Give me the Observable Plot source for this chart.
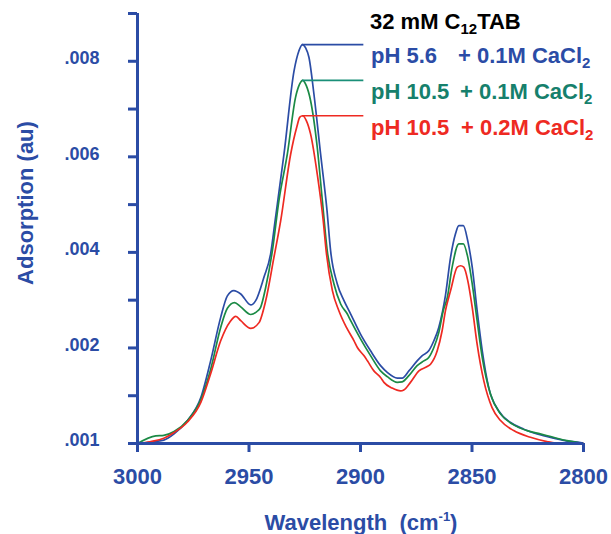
<!DOCTYPE html>
<html><head><meta charset="utf-8">
<script src="https://cdn.jsdelivr.net/npm/d3@7"></script>
<script src="https://cdn.jsdelivr.net/npm/@observablehq/plot@0.6"></script>
<style>body{margin:0;background:#fff;overflow:hidden} svg{display:block}</style>
</head><body><div id="chart"></div>
<script>
// ---- data ----
const blueWn = [3000,2994,2988.2,2983.6,2977.6,2971.6,2967.2,2962.7,2959.7,2956.8,2953.7,2949.2,2947,2943.3,2940.3,2938.3,2934.3,2929.8,2927.6,2926.1,2924.6,2923.1,2920.9,2917.9,2915,2913.4,2910.4,2907.4,2904.4,2900,2895.5,2891,2888,2883.5,2881.3,2878.3,2874.6,2872.3,2869.4,2867.1,2864.9,2861.9,2859.6,2857.4,2855.9,2853.9,2851.9,2849.9,2847.7,2845.4,2842.5,2838,2832.7,2826.8,2820.8,2813.3,2807.3,2801.4,2800];
const blueAbs = [0,0.00003,0.00007,0.0002,0.00048,0.00096,0.00173,0.00264,0.00309,0.0032,0.00313,0.0029,0.00299,0.00348,0.00397,0.00466,0.00606,0.0078,0.00822,0.00835,0.00828,0.00808,0.00732,0.00606,0.00487,0.00403,0.00334,0.00299,0.00271,0.00229,0.00194,0.00163,0.00149,0.00137,0.00137,0.00152,0.00173,0.00184,0.00194,0.00215,0.00243,0.0031,0.0039,0.00439,0.00456,0.00456,0.00424,0.00369,0.00278,0.00194,0.00117,0.00068,0.00044,0.0003,0.0002,0.00011,0.00005,0.00002,0];

const greenWn = [3000,2991.8,2988.2,2983.6,2977.6,2971.6,2967.2,2962.7,2959.7,2956.5,2953.7,2949.2,2946.5,2944.8,2942.5,2939.5,2936.6,2932.8,2929.1,2927.2,2926,2924.3,2922.4,2919.4,2917.1,2914.9,2911.9,2908.9,2905.9,2904.4,2900,2895.5,2891,2888,2883.5,2881.3,2878.3,2874.6,2871.6,2869.4,2867.1,2864.9,2862.9,2861.1,2858.9,2855.9,2853.9,2851.9,2849.9,2847.7,2845.4,2841.7,2837.2,2831.3,2825.3,2819.4,2811.9,2807.4,2800];
const greenAbs = [0,0.00016,0.00017,0.00025,0.00048,0.00092,0.00155,0.00243,0.00283,0.00295,0.00286,0.0027,0.00276,0.00285,0.00327,0.00404,0.00508,0.00606,0.00725,0.00753,0.0076,0.00749,0.00718,0.0062,0.00508,0.00403,0.00334,0.00292,0.00271,0.00257,0.00219,0.00184,0.00152,0.0014,0.00128,0.00129,0.00142,0.00163,0.00173,0.0018,0.00201,0.00232,0.00278,0.00305,0.00369,0.00418,0.00418,0.0039,0.00334,0.00257,0.0018,0.00103,0.00062,0.00039,0.00027,0.0002,0.00011,0.00006,0];

const redWn = [3000,2994,2988.2,2983.6,2977.6,2971.6,2967.2,2962.7,2958.5,2955.9,2953.7,2949.2,2945.5,2942.5,2938.8,2935.8,2931.3,2928.6,2927.2,2926,2924.3,2922.4,2919.4,2916.7,2915.4,2912.6,2909.7,2906.3,2902.9,2901.4,2898.5,2896.9,2894,2891,2889.5,2885.8,2882,2880.6,2877.6,2873.8,2870.1,2868.6,2865.6,2863.4,2861.9,2859.6,2856.6,2855.1,2853.7,2851.9,2849.9,2847.7,2844.7,2841,2837.2,2831.3,2823.8,2816.4,2810.4,2800];
const redAbs = [0,0.00004,0.00011,0.00023,0.00045,0.00086,0.00146,0.00215,0.00255,0.00266,0.00257,0.00241,0.00253,0.00299,0.0039,0.00466,0.00606,0.00662,0.00683,0.00686,0.00676,0.00648,0.00564,0.00466,0.00403,0.0032,0.00278,0.00243,0.00215,0.00201,0.00184,0.00173,0.00152,0.00138,0.00128,0.00116,0.0011,0.00112,0.00128,0.00152,0.00161,0.00166,0.00194,0.00236,0.00278,0.0032,0.00369,0.00372,0.00369,0.00341,0.00285,0.00208,0.00131,0.00075,0.00048,0.00027,0.00013,0.00004,0,0];

const seriesPh = ["pH 5.6", "pH 10.5", "pH 10.5"];
const seriesSalt = ["+ 0.1M CaCl", "+ 0.1M CaCl", "+ 0.2M CaCl"];
const titleMain = "32 mM C", titleSub = "12", titleEnd = "TAB";
const xTicks = [3000, 2950, 2900, 2850, 2800];
const yTicks = [0, 0.001, 0.002, 0.003, 0.004, 0.005, 0.006, 0.007, 0.008, 0.009];
const yLabelValues = [0, 0.002, 0.004, 0.006, 0.008];
const yLabelTexts = [".001", ".002", ".004", ".006", ".008"];
const xTitle = "Wavelength  (cm", xTitleSup = "-1";
const yTitle = "Adsorption (au)";
const legendEndWn = 2898.5;

// ---- styling ----
const BLUE = "#2b4ca5";
const lineColors = ["#2b4ca5", "#1b8a45", "#ee2a22"];
const legendLineColors = ["#2b4ca5", "#1a8f78", "#ee2a22"];
const textColors = ["#2b4ca6", "#16806c", "#ee2a22"];
const FONT = "'Liberation Sans', Arial, Helvetica, sans-serif";

const series = [[blueWn, blueAbs], [greenWn, greenAbs], [redWn, redAbs]];
const rows = series.flatMap(([w, a], k) => w.map((wn, i) => ({k, wn, abs: a[i], color: lineColors[k]})));
const peaks = series.map(([w, a], k) => {
  const i = d3.maxIndex(a);
  return {k, wn: w[i], abs: a[i], end: legendEndWn, color: legendLineColors[k]};
});
const yLabelRows = yLabelValues.map((v, i) => ({v, t: yLabelTexts[i], x: xTicks[0]}));

const plot = Plot.plot({
  width: 611, height: 534,
  marginTop: 13, marginRight: 28, marginBottom: 91, marginLeft: 137,
  style: {fontFamily: FONT, fontWeight: "bold", color: BLUE, background: "white", overflow: "visible"},
  x: {domain: [3000, 2800], label: null, axis: null},
  y: {domain: [0, 0.009], label: null, axis: null},
  color: {type: "identity"},
  marks: [
    Plot.line(rows, {x: "wn", y: "abs", z: "k", stroke: "color", strokeWidth: 1.7, curve: "monotone-x"}),
    Plot.ruleY(peaks, {y: "abs", x1: "wn", x2: "end", stroke: "color", strokeWidth: 1.7}),
    Plot.ruleX([xTicks[0]], {stroke: BLUE, strokeWidth: 3}),
    Plot.ruleY([0], {stroke: BLUE, strokeWidth: 3}),
    Plot.axisX({ticks: xTicks, tickFormat: "d", tickSize: 9, tickPadding: 16, fontSize: 22, strokeWidth: 3, label: null}),
    Plot.axisY({ticks: yTicks, tickFormat: () => "", tickSize: 9, strokeWidth: 3, label: null}),
    Plot.text(yLabelRows, {x: "x", y: "v", text: "t", dx: -38, dy: -3, textAnchor: "end", fontSize: 18, fill: BLUE})
  ]
});
document.getElementById("chart").append(plot);

const svg = d3.select(plot);
function addText(x, y, parts, size, fill, anchor = "start") {
  const t = svg.append("text").attr("x", x).attr("y", y)
    .attr("font-family", FONT).attr("font-weight", "bold").attr("font-size", size)
    .attr("fill", fill).attr("text-anchor", anchor).style("white-space", "pre");
  for (const p of parts) {
    const s = t.append("tspan").text(p.text);
    if (p.size) s.attr("font-size", p.size);
    if (p.dy) s.attr("dy", p.dy);
  }
  return t;
}
// title
addText(370, 29, [{text: titleMain}, {text: titleSub, size: 15, dy: 5}, {text: titleEnd, dy: -5}], 22, "#000");
// legend rows
const rowY = [63, 99, 135];
const saltX = [458, 460, 461];
seriesPh.forEach((ph, k) => {
  addText(371, rowY[k], [{text: ph}], 22, textColors[k]);
  addText(saltX[k], rowY[k], [{text: seriesSalt[k]}, {text: "2", size: 15, dy: 5}], 22, textColors[k]);
});
// axis titles
addText(361, 530, [{text: xTitle}, {text: xTitleSup, size: 13, dy: -9}, {text: ")", dy: 9}], 22, BLUE, "middle");
addText(0, 0, [{text: yTitle}], 22, BLUE, "middle")
  .attr("transform", "translate(33,203) rotate(-90)");
</script></body></html>
